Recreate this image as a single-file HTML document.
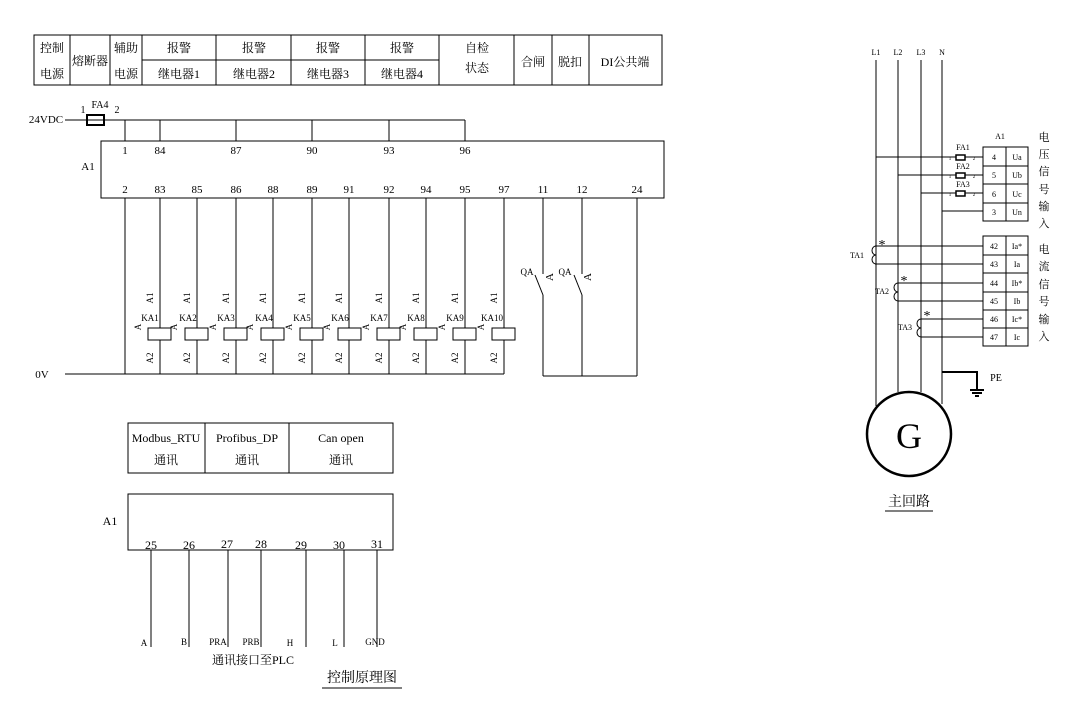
<!DOCTYPE html>
<html><head><meta charset="utf-8"><style>
html,body{margin:0;padding:0;background:#fff;}
svg{display:block;}
text{font-family:"Liberation Serif","Noto Serif CJK SC",serif;fill:#000;}
</style></head><body>
<svg width="1078" height="701" viewBox="0 0 1078 701" xmlns="http://www.w3.org/2000/svg">
<g stroke="#000" stroke-width="1" fill="none">
<!-- top table -->
<rect x="34" y="35" width="628" height="50"/>
<line x1="70" y1="35" x2="70" y2="85"/><line x1="110" y1="35" x2="110" y2="85"/>
<line x1="142" y1="35" x2="142" y2="85"/><line x1="216" y1="35" x2="216" y2="85"/>
<line x1="291" y1="35" x2="291" y2="85"/><line x1="365" y1="35" x2="365" y2="85"/>
<line x1="439" y1="35" x2="439" y2="85"/><line x1="514" y1="35" x2="514" y2="85"/>
<line x1="552" y1="35" x2="552" y2="85"/><line x1="589" y1="35" x2="589" y2="85"/>
<line x1="142" y1="60" x2="439" y2="60"/>
<!-- 24VDC bus -->
<line x1="65" y1="120" x2="87" y2="120"/>
<rect x="87" y="115" width="17" height="10" stroke-width="2"/>
<line x1="87" y1="120" x2="104" y2="120"/>
<line x1="104" y1="120" x2="465" y2="120"/>
<line x1="125" y1="120" x2="125" y2="141"/><line x1="160" y1="120" x2="160" y2="141"/>
<line x1="236" y1="120" x2="236" y2="141"/><line x1="312" y1="120" x2="312" y2="141"/>
<line x1="389" y1="120" x2="389" y2="141"/><line x1="465" y1="120" x2="465" y2="141"/>
<rect x="101" y="141" width="563" height="57"/>
<!-- verticals -->
<line x1="125" y1="198" x2="125" y2="374"/>
<line x1="160" y1="198" x2="160" y2="374"/><line x1="197" y1="198" x2="197" y2="374"/>
<line x1="236" y1="198" x2="236" y2="374"/><line x1="273" y1="198" x2="273" y2="374"/>
<line x1="312" y1="198" x2="312" y2="374"/><line x1="349" y1="198" x2="349" y2="374"/>
<line x1="389" y1="198" x2="389" y2="374"/><line x1="426" y1="198" x2="426" y2="374"/>
<line x1="465" y1="198" x2="465" y2="374"/><line x1="504" y1="198" x2="504" y2="374"/>
<line x1="65" y1="374" x2="504" y2="374"/>
<!-- QA -->
<line x1="543" y1="198" x2="543" y2="274"/><line x1="535" y1="275" x2="543" y2="295"/><line x1="543" y1="295" x2="543" y2="376"/>
<line x1="582" y1="198" x2="582" y2="274"/><line x1="574" y1="275" x2="582" y2="295"/><line x1="582" y1="295" x2="582" y2="376"/>
<line x1="637" y1="198" x2="637" y2="376"/>
<line x1="543" y1="376" x2="637" y2="376"/>
</g>
<!-- coils -->
<g stroke="#000" stroke-width="1" fill="#fff">
<rect x="148" y="328" width="23" height="12"/><rect x="185" y="328" width="23" height="12"/>
<rect x="224" y="328" width="23" height="12"/><rect x="261" y="328" width="23" height="12"/>
<rect x="300" y="328" width="23" height="12"/><rect x="338" y="328" width="23" height="12"/>
<rect x="377" y="328" width="23" height="12"/><rect x="414" y="328" width="23" height="12"/>
<rect x="453" y="328" width="23" height="12"/><rect x="492" y="328" width="23" height="12"/>
</g>
<g font-size="12" text-anchor="middle">
<text x="52" y="52">控制</text><text x="52" y="78">电源</text>
<text x="90" y="65">熔断器</text>
<text x="126" y="52">辅助</text><text x="126" y="78">电源</text>
<text x="179" y="52">报警</text><text x="179" y="78">继电器1</text>
<text x="254" y="52">报警</text><text x="254" y="78">继电器2</text>
<text x="328" y="52">报警</text><text x="328" y="78">继电器3</text>
<text x="402" y="52">报警</text><text x="402" y="78">继电器4</text>
<text x="477" y="52">自检</text><text x="477" y="72">状态</text>
<text x="533" y="66">合闸</text><text x="570" y="66">脱扣</text><text x="625" y="66">DI公共端</text>
</g>
<g font-size="11" text-anchor="middle">
<text x="46" y="123">24VDC</text>
<text x="83" y="113" font-size="10">1</text><text x="100" y="108" font-size="10">FA4</text><text x="117" y="113" font-size="10">2</text>
<text x="88" y="170">A1</text>
<text x="125" y="154">1</text><text x="160" y="154">84</text><text x="236" y="154">87</text>
<text x="312" y="154">90</text><text x="389" y="154">93</text><text x="465" y="154">96</text>
<text x="125" y="193">2</text><text x="160" y="193">83</text><text x="197" y="193">85</text>
<text x="236" y="193">86</text><text x="273" y="193">88</text><text x="312" y="193">89</text>
<text x="349" y="193">91</text><text x="389" y="193">92</text><text x="426" y="193">94</text>
<text x="465" y="193">95</text><text x="504" y="193">97</text><text x="543" y="193">11</text>
<text x="582" y="193">12</text><text x="637" y="193">24</text>
<text x="42" y="378">0V</text>
<text x="527" y="275" font-size="9">QA</text><text x="565" y="275" font-size="9">QA</text>
</g>
<g font-size="9" text-anchor="middle">
<text x="150" y="321">KA1</text><text x="188" y="321">KA2</text><text x="226" y="321">KA3</text>
<text x="264" y="321">KA4</text><text x="302" y="321">KA5</text><text x="340" y="321">KA6</text>
<text x="379" y="321">KA7</text><text x="416" y="321">KA8</text><text x="455" y="321">KA9</text>
<text x="492" y="321">KA10</text>
</g>
<g font-size="9" text-anchor="middle">
<text transform="translate(153,298) rotate(-90)">A1</text><text transform="translate(153,358) rotate(-90)">A2</text>
<text transform="translate(190,298) rotate(-90)">A1</text><text transform="translate(190,358) rotate(-90)">A2</text>
<text transform="translate(229,298) rotate(-90)">A1</text><text transform="translate(229,358) rotate(-90)">A2</text>
<text transform="translate(266,298) rotate(-90)">A1</text><text transform="translate(266,358) rotate(-90)">A2</text>
<text transform="translate(305,298) rotate(-90)">A1</text><text transform="translate(305,358) rotate(-90)">A2</text>
<text transform="translate(342,298) rotate(-90)">A1</text><text transform="translate(342,358) rotate(-90)">A2</text>
<text transform="translate(382,298) rotate(-90)">A1</text><text transform="translate(382,358) rotate(-90)">A2</text>
<text transform="translate(419,298) rotate(-90)">A1</text><text transform="translate(419,358) rotate(-90)">A2</text>
<text transform="translate(458,298) rotate(-90)">A1</text><text transform="translate(458,358) rotate(-90)">A2</text>
<text transform="translate(497,298) rotate(-90)">A1</text><text transform="translate(497,358) rotate(-90)">A2</text>
<text transform="translate(141,327) rotate(-90)">A</text><text transform="translate(177,327) rotate(-90)">A</text>
<text transform="translate(216,327) rotate(-90)">A</text><text transform="translate(253,327) rotate(-90)">A</text>
<text transform="translate(292,327) rotate(-90)">A</text><text transform="translate(330,327) rotate(-90)">A</text>
<text transform="translate(369,327) rotate(-90)">A</text><text transform="translate(406,327) rotate(-90)">A</text>
<text transform="translate(445,327) rotate(-90)">A</text><text transform="translate(484,327) rotate(-90)">A</text>
<text transform="translate(553,277) rotate(-90)" font-size="11">A</text><text transform="translate(591,277) rotate(-90)" font-size="11">A</text>
</g>
<!-- comm section -->
<g stroke="#000" stroke-width="1" fill="none">
<rect x="128" y="423" width="265" height="50"/>
<line x1="205" y1="423" x2="205" y2="473"/><line x1="289" y1="423" x2="289" y2="473"/>
<rect x="128" y="494" width="265" height="56"/>
<line x1="151" y1="550" x2="151" y2="647"/><line x1="189" y1="550" x2="189" y2="647"/>
<line x1="228" y1="550" x2="228" y2="647"/><line x1="261" y1="550" x2="261" y2="647"/>
<line x1="306" y1="550" x2="306" y2="647"/><line x1="344" y1="550" x2="344" y2="647"/>
<line x1="377" y1="550" x2="377" y2="647"/>
<line x1="322" y1="688" x2="402" y2="688"/>
</g>
<g font-size="12" text-anchor="middle">
<text x="166" y="442">Modbus_RTU</text><text x="166" y="464">通讯</text>
<text x="247" y="442">Profibus_DP</text><text x="247" y="464">通讯</text>
<text x="341" y="442">Can open</text><text x="341" y="464">通讯</text>
<text x="110" y="525">A1</text>
<text x="151" y="549">25</text><text x="189" y="549">26</text><text x="227" y="548">27</text>
<text x="261" y="548">28</text><text x="301" y="549">29</text><text x="339" y="549">30</text><text x="377" y="548">31</text>
<text x="253" y="664">通讯接口至PLC</text>
<text x="362" y="682" font-size="14">控制原理图</text>
</g>
<g font-size="9" text-anchor="middle">
<text x="144" y="646">A</text><text x="184" y="645">B</text><text x="218" y="645">PRA</text>
<text x="251" y="645">PRB</text><text x="290" y="646">H</text><text x="335" y="646">L</text><text x="375" y="645">GND</text>
</g>
<!-- main circuit -->
<g stroke="#000" stroke-width="1" fill="none">
<line x1="876" y1="60" x2="876" y2="406"/><line x1="898" y1="60" x2="898" y2="392"/>
<line x1="921" y1="60" x2="921" y2="392"/><line x1="942" y1="60" x2="942" y2="404"/>
<rect x="983" y="147" width="45" height="74"/>
<line x1="1006" y1="147" x2="1006" y2="221"/>
<line x1="983" y1="166" x2="1028" y2="166"/><line x1="983" y1="184" x2="1028" y2="184"/><line x1="983" y1="203" x2="1028" y2="203"/>
<rect x="983" y="236" width="45" height="110"/>
<line x1="1006" y1="236" x2="1006" y2="346"/>
<line x1="983" y1="255" x2="1028" y2="255"/><line x1="983" y1="273" x2="1028" y2="273"/>
<line x1="983" y1="292" x2="1028" y2="292"/><line x1="983" y1="310" x2="1028" y2="310"/>
<line x1="983" y1="328" x2="1028" y2="328"/>
<line x1="876" y1="157" x2="983" y2="157"/><line x1="898" y1="175" x2="983" y2="175"/>
<line x1="921" y1="193" x2="983" y2="193"/><line x1="942" y1="211" x2="983" y2="211"/>
<line x1="875" y1="246" x2="983" y2="246"/><line x1="875" y1="264" x2="983" y2="264"/>
<line x1="898" y1="283" x2="983" y2="283"/><line x1="898" y1="301" x2="983" y2="301"/>
<line x1="921" y1="319" x2="983" y2="319"/><line x1="921" y1="337" x2="983" y2="337"/>
<path d="M876 246 a4 4.5 0 0 0 0 9 a4 4.5 0 0 0 0 9"/>
<path d="M898 283 a4 4.5 0 0 0 0 9 a4 4.5 0 0 0 0 9"/>
<path d="M921 319 a4 4.5 0 0 0 0 9 a4 4.5 0 0 0 0 9"/>
<path d="M942 372 H977 V390" stroke-width="2"/>
<line x1="970" y1="390" x2="984" y2="390" stroke-width="2"/>
<line x1="972" y1="393" x2="982" y2="393" stroke-width="2"/>
<line x1="975" y1="396" x2="979" y2="396" stroke-width="2"/>
<circle cx="909" cy="434" r="42" stroke-width="2.5" fill="#fff"/>
<line x1="885" y1="511" x2="933" y2="511"/>
</g>
<g stroke="#000" stroke-width="1" fill="#fff">
<rect x="956" y="155" width="9" height="5" stroke-width="1.5"/>
<rect x="956" y="173" width="9" height="5" stroke-width="1.5"/>
<rect x="956" y="191" width="9" height="5" stroke-width="1.5"/>
</g>
<g font-size="8" text-anchor="middle">
<text x="876" y="55">L1</text><text x="898" y="55">L2</text><text x="921" y="55">L3</text><text x="942" y="55">N</text>
<text x="1000" y="139">A1</text>
<text x="963" y="150">FA1</text><text x="963" y="169">FA2</text><text x="963" y="187">FA3</text>
<text x="950" y="160" font-size="5">1</text><text x="974" y="160" font-size="5">2</text>
<text x="950" y="178" font-size="5">1</text><text x="974" y="178" font-size="5">2</text>
<text x="950" y="196" font-size="5">1</text><text x="974" y="196" font-size="5">2</text>
<text x="994" y="160">4</text><text x="1017" y="160">Ua</text>
<text x="994" y="178">5</text><text x="1017" y="178">Ub</text>
<text x="994" y="197">6</text><text x="1017" y="197">Uc</text>
<text x="994" y="215">3</text><text x="1017" y="215">Un</text>
<text x="994" y="249">42</text><text x="1017" y="249">Ia*</text>
<text x="994" y="267">43</text><text x="1017" y="267">Ia</text>
<text x="994" y="286">44</text><text x="1017" y="286">Ib*</text>
<text x="994" y="304">45</text><text x="1017" y="304">Ib</text>
<text x="994" y="322">46</text><text x="1017" y="322">Ic*</text>
<text x="994" y="340">47</text><text x="1017" y="340">Ic</text>
<text x="857" y="258">TA1</text><text x="882" y="294">TA2</text><text x="905" y="330">TA3</text>
<text x="996" y="381" font-size="10">PE</text>
</g>
<g font-size="14" text-anchor="middle">
<text x="882" y="249">*</text><text x="904" y="285">*</text><text x="927" y="320">*</text>
</g>
<g font-size="11" text-anchor="middle">
<text x="1044" y="141">电</text><text x="1044" y="158">压</text><text x="1044" y="175">信</text>
<text x="1044" y="193">号</text><text x="1044" y="210">输</text><text x="1044" y="227">入</text>
<text x="1044" y="253">电</text><text x="1044" y="270">流</text><text x="1044" y="288">信</text>
<text x="1044" y="305">号</text><text x="1044" y="323">输</text><text x="1044" y="340">入</text>
</g>
<text x="909" y="448" font-size="36" text-anchor="middle">G</text>
<text x="909" y="506" font-size="14" text-anchor="middle">主回路</text>
</svg>
</body></html>
